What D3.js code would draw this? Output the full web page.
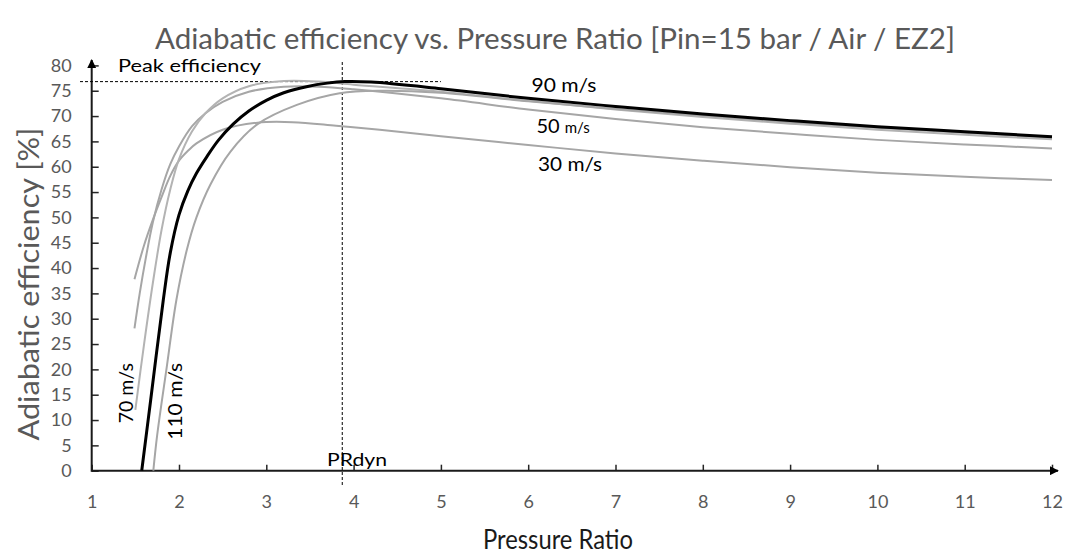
<!DOCTYPE html>
<html>
<head>
<meta charset="utf-8">
<script src="https://cdn.jsdelivr.net/npm/d3@7/dist/d3.min.js"></script>
<style>
  html, body { margin: 0; padding: 0; background: #fff; }
  svg { display: block; }
  text { font-family: Lato, "Open Sans", "Noto Sans", sans-serif; }
</style>
</head>
<body>
<svg id="chart" width="1067" height="558"></svg>
<script>
// ---------- data ----------
const title = "Adiabatic efficiency vs. Pressure Ratio [Pin=15 bar / Air / EZ2]";
const xTitle = "Pressure Ratio";
const yTitle = "Adiabatic efficiency [%]";
const xTicks = [1, 2, 3, 4, 5, 6, 7, 8, 9, 10, 11, 12];
const yTicks = [0, 5, 10, 15, 20, 25, 30, 35, 40, 45, 50, 55, 60, 65, 70, 75, 80];
const seriesNames = ["30 m/s", "50 m/s", "70 m/s", "110 m/s", "90 m/s"];

const pr30  = [1.49, 1.6, 1.7, 1.8, 1.9, 2.0, 2.1, 2.2, 2.5, 2.9, 3.3, 3.8, 4.3, 5, 6, 7, 8, 9, 10, 11, 12];
const eff30 = [37.8, 44.5, 49.5, 54, 58.2, 61.2, 63.1, 64.6, 67.3, 68.7, 68.8, 68.1, 67.3, 66, 64.3, 62.6, 61.2, 59.9, 58.8, 58, 57.4];

const pr50  = [1.49, 1.55, 1.62, 1.7, 1.8, 1.9, 2.0, 2.15, 2.3, 2.5, 2.8, 3.2, 3.6, 4.0, 5, 6, 7, 8, 9, 10, 11, 12];
const eff50 = [28.1, 35, 42, 49, 55.5, 60.5, 64, 68, 70.5, 72.8, 74.8, 75.8, 75.8, 75.3, 73.5, 71.3, 69.4, 67.8, 66.5, 65.3, 64.4, 63.6];

const pr70  = [1.5, 1.6, 1.7, 1.8, 1.9, 2.0, 2.15, 2.3, 2.5, 2.8, 3.2, 3.6, 4.0, 5, 6, 7, 8, 9, 10, 11, 12];
const eff70 = [12, 25, 37, 47.5, 55.5, 61.5, 67, 70.5, 73.5, 75.9, 76.9, 76.8, 76.2, 74.8, 73, 71.3, 69.8, 68.5, 67.3, 66.3, 65.4];

const pr90  = [1.573, 1.676, 1.82, 1.9, 2.0, 2.1, 2.2, 2.32, 2.45, 2.62, 2.8, 3.0, 3.2, 3.46, 3.7, 3.9, 4.2, 5, 6, 7, 8, 9, 10, 11, 12];
const eff90 = [0, 14, 33.7, 43, 50.5, 55.2, 58.7, 62, 65.2, 68.4, 71, 73.1, 74.6, 75.8, 76.5, 76.8, 76.7, 75.4, 73.5, 71.9, 70.4, 69.1, 67.9, 66.9, 65.9];

const pr110  = [1.706, 1.75, 1.86, 1.97, 2.09, 2.2, 2.36, 2.59, 2.9, 3.35, 3.84, 4.3, 5, 6, 7, 8, 9, 10, 11, 12];
const eff110 = [0, 7, 20.5, 33.7, 43.6, 50, 56.5, 63, 68.4, 72.2, 74.5, 75.0, 74.6, 72.9, 71.4, 70.1, 68.8, 67.7, 66.7, 65.8];

const peakEff = 76.8;   // horizontal reference line
const prDyn = 3.87;     // vertical reference line

// ---------- layout ----------
const svg = d3.select("#chart");
const x = d3.scaleLinear().domain([1, 12]).range([91.7, 1052]);
const y = d3.scaleLinear().domain([0, 80]).range([470.7, 65.4]);

const grey = "#a6a6a6", labelGrey = "#595959";

function fit(sel, target) {
  const node = sel.node();
  const fs = parseFloat(sel.style("font-size"));
  const w = node.getComputedTextLength();
  sel.style("font-size", (fs * target / w).toFixed(2) + "px");
  return sel;
}
function squeeze(sel, target) {
  sel.attr("textLength", target).attr("lengthAdjust", "spacingAndGlyphs");
  return sel;
}

// title
squeeze(svg.append("text").attr("x", 555).attr("y", 49)
  .attr("text-anchor", "middle").attr("fill", labelGrey)
  .style("font-size", "29px").text(title), 800);

// axes (ticks and labels)
const xAxis = d3.axisBottom(x).tickValues(xTicks).tickSizeInner(-6).tickSizeOuter(0).tickPadding(25).tickFormat(d3.format("d"));
const gx = svg.append("g").attr("transform", `translate(0,${y(0)})`).call(xAxis);
gx.select(".domain").remove();
gx.selectAll(".tick line").attr("stroke", "#262626").attr("stroke-width", 1.5);
gx.selectAll(".tick text").attr("fill", labelGrey).style("font-size", "18px").style("font-family", "Lato, sans-serif");

const yAxis = d3.axisLeft(y).tickValues(yTicks).tickSizeInner(-7).tickSizeOuter(0).tickPadding(20).tickFormat(d3.format("d"));
const gy = svg.append("g").attr("transform", `translate(${x(1)},0)`).call(yAxis);
gy.select(".domain").remove();
gy.selectAll(".tick line").attr("stroke", "#262626").attr("stroke-width", 1.5);
gy.selectAll(".tick text").attr("fill", labelGrey).style("font-size", "18px").style("font-family", "Lato, sans-serif");

// axis titles
squeeze(svg.append("text").attr("x", 558).attr("y", 549).attr("text-anchor", "middle")
  .attr("fill", "#1a1a1a").style("font-size", "26px").text(xTitle), 150);
squeeze(svg.append("text").attr("transform", `translate(39,284) rotate(-90)`).attr("text-anchor", "middle")
  .attr("fill", labelGrey).style("font-size", "28px").text(yTitle), 313);

// arrow marker
const defs = svg.append("defs");
defs.append("marker").attr("id", "arrow").attr("viewBox", "0 0 10 10")
  .attr("refX", 9).attr("refY", 5).attr("markerWidth", 4.5).attr("markerHeight", 4.5)
  .attr("orient", "auto").attr("markerUnits", "strokeWidth")
  .append("path").attr("d", "M0,0 L10,5 L0,10 Z").attr("fill", "#000");

// axis lines with arrows
svg.append("line").attr("x1", x(1)).attr("y1", y(0)).attr("x2", 1058).attr("y2", y(0))
  .attr("stroke", "#1a1a1a").attr("stroke-width", 2).attr("marker-end", "url(#arrow)");
svg.append("line").attr("x1", x(1)).attr("y1", y(0) + 1).attr("x2", x(1)).attr("y2", 60)
  .attr("stroke", "#1a1a1a").attr("stroke-width", 2).attr("marker-end", "url(#arrow)");

// reference dashed lines
svg.append("line").attr("x1", 80).attr("x2", x(5)).attr("y1", y(peakEff)).attr("y2", y(peakEff))
  .attr("stroke", "#000").attr("stroke-width", 1).attr("stroke-dasharray", "3,2");
svg.append("line").attr("x1", x(prDyn)).attr("x2", x(prDyn)).attr("y1", 62).attr("y2", 485)
  .attr("stroke", "#000").attr("stroke-width", 1).attr("stroke-dasharray", "3,2");

// curves
const line = d3.line().x(d => x(d[0])).y(d => y(d[1])).curve(d3.curveCatmullRom.alpha(0.5));
const series = [
  { name: seriesNames[0], pr: pr30,  eff: eff30,  color: grey, w: 2 },
  { name: seriesNames[1], pr: pr50,  eff: eff50,  color: grey, w: 2 },
  { name: seriesNames[2], pr: pr70,  eff: eff70,  color: "#b3b3b3", w: 2 },
  { name: seriesNames[3], pr: pr110, eff: eff110, color: grey, w: 2 },
  { name: seriesNames[4], pr: pr90,  eff: eff90,  color: "#000", w: 3 }
];
svg.append("g").selectAll("path").data(series).join("path")
  .attr("d", s => line(s.pr.map((p, i) => [p, s.eff[i]])))
  .attr("fill", "none").attr("stroke", s => s.color).attr("stroke-width", s => s.w)
  .attr("stroke-linejoin", "round").attr("stroke-linecap", "butt");

// annotations
squeeze(svg.append("text").attr("x", 118).attr("y", 72).attr("fill", "#000").style("font-size", "18px").text("Peak efficiency"), 143);
squeeze(svg.append("text").attr("x", x(4.04)).attr("y", 466).attr("text-anchor", "middle").attr("fill", "#000").style("font-size", "18px").text("PRdyn"), 60);

squeeze(svg.append("text").attr("x", x(6.41)).attr("y", y(74.75)).attr("text-anchor", "middle").attr("fill", "#000").style("font-size", "20px").text("90 m/s"), 65);
const l50 = svg.append("text").attr("x", x(6.40)).attr("y", y(66.7)).attr("text-anchor", "middle").attr("fill", "#000").style("font-size", "20px");
l50.append("tspan").text("50 ");
l50.append("tspan").style("font-size", "15px").text("m/s");
squeeze(svg.append("text").attr("x", x(6.48)).attr("y", y(59.2)).attr("text-anchor", "middle").attr("fill", "#000").style("font-size", "20px").text("30 m/s"), 64);

squeeze(svg.append("text").attr("transform", `translate(${x(1.39) + 7},${y(15.3)}) rotate(-90)`).attr("text-anchor", "middle")
  .attr("fill", "#000").style("font-size", "19px").text("70 m/s"), 60);
squeeze(svg.append("text").attr("transform", `translate(${x(1.955) + 7},${y(13.7)}) rotate(-90)`).attr("text-anchor", "middle")
  .attr("fill", "#000").style("font-size", "19px").text("110 m/s"), 77);
</script>
</body>
</html>
